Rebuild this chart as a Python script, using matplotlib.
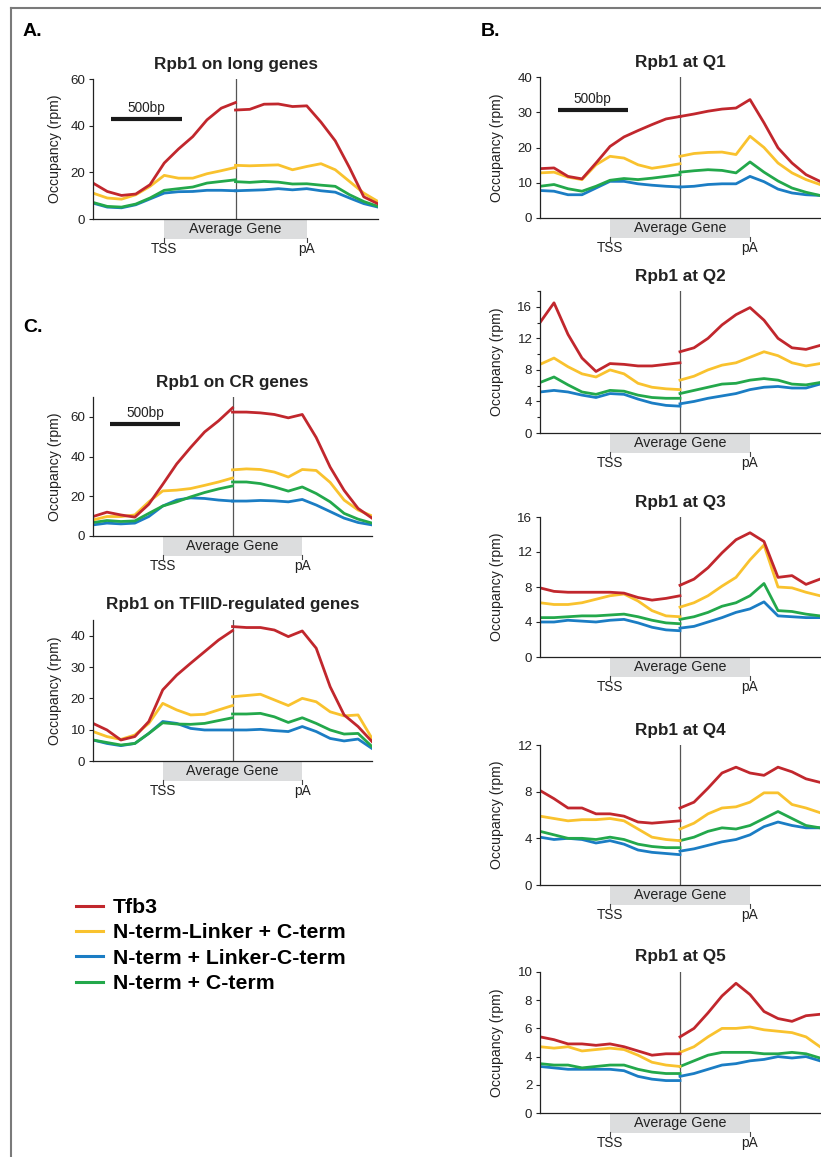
import numpy as np
import matplotlib.pyplot as plt
from matplotlib.lines import Line2D
from matplotlib.patches import Rectangle
from matplotlib.transforms import blended_transform_factory

plt.rcParams['font.family'] = ['Liberation Sans', 'DejaVu Sans']

W, H, DPI = 821, 1157, 100

# metagene position: 0..2 = upstream -> TSS -> gene middle, 2..4 = gene middle -> pA -> downstream
pos_left = np.linspace(0, 2, 11)
pos_right = np.linspace(2, 4, 11)

names = ['Tfb3', 'N-term-Linker + C-term', 'N-term + Linker-C-term', 'N-term + C-term']
colors = ['#C1272D', '#F9C22E', '#1B7DC4', '#23A84B']

# every list: 11 values before the gene middle, then 11 after it
long_tfb3 = [15.4, 11.8, 10.1, 10.7, 14.7, 24.0, 30.0, 35.3, 42.5, 47.5, 49.9,
             46.7, 47.0, 49.2, 49.3, 48.2, 48.5, 41.5, 33.5, 22.0, 9.5, 6.5]
long_nlc = [11.1, 9.0, 8.5, 10.4, 14.0, 18.7, 17.5, 17.5, 19.4, 20.7, 22.1,
            23.0, 22.8, 23.0, 23.2, 21.1, 22.5, 23.7, 21.1, 16.1, 11.1, 7.5]
long_nlct = [6.8, 5.1, 4.8, 6.1, 8.6, 11.1, 11.7, 11.8, 12.3, 12.3, 12.1,
             12.1, 12.3, 12.5, 13.0, 12.5, 13.0, 12.1, 11.5, 9.0, 6.6, 5.1]
long_nct = [7.1, 5.4, 5.1, 6.4, 9.0, 12.3, 13.0, 13.7, 15.4, 16.1, 16.8,
            16.0, 15.7, 16.1, 15.8, 15.0, 15.1, 14.5, 14.0, 10.4, 7.5, 5.4]

q1_tfb3 = [14.0, 14.2, 11.8, 11.1, 15.6, 20.3, 23.0, 24.8, 26.5, 28.1, 28.8,
           28.8, 29.5, 30.3, 30.9, 31.2, 33.6, 27.0, 19.9, 15.6, 12.3, 10.4]
q1_nlc = [12.8, 13.0, 11.6, 10.9, 15.1, 17.5, 17.0, 15.1, 14.1, 14.7, 15.4,
          17.5, 18.3, 18.6, 18.7, 18.0, 23.2, 20.0, 15.6, 12.8, 10.9, 9.5]
q1_nlct = [7.8, 7.6, 6.6, 6.6, 8.5, 10.4, 10.4, 9.7, 9.3, 9.0, 8.8,
           8.8, 9.0, 9.5, 9.7, 9.7, 11.8, 10.3, 8.2, 7.1, 6.6, 6.4]
q1_nct = [9.0, 9.5, 8.3, 7.6, 9.0, 10.7, 11.2, 10.9, 11.3, 11.8, 12.3,
          13.0, 13.4, 13.7, 13.5, 12.8, 15.9, 13.0, 10.5, 8.5, 7.3, 6.4]

q2_tfb3 = [14.0, 16.5, 12.5, 9.5, 7.8, 8.8, 8.7, 8.5, 8.5, 8.7, 8.9,
           10.3, 10.8, 12.0, 13.7, 15.0, 15.9, 14.3, 12.0, 10.8, 10.6, 11.1]
q2_nlc = [8.7, 9.5, 8.4, 7.5, 7.1, 8.0, 7.5, 6.3, 5.8, 5.6, 5.5,
          6.7, 7.2, 8.0, 8.6, 8.9, 9.6, 10.3, 9.8, 8.9, 8.5, 8.8]
q2_nlct = [5.2, 5.4, 5.2, 4.8, 4.5, 5.0, 4.9, 4.3, 3.8, 3.5, 3.4,
           3.7, 4.0, 4.4, 4.7, 5.0, 5.5, 5.8, 5.9, 5.7, 5.7, 6.2]
q2_nct = [6.4, 7.1, 6.1, 5.2, 4.9, 5.4, 5.3, 4.8, 4.5, 4.4, 4.4,
          5.0, 5.4, 5.8, 6.2, 6.3, 6.7, 6.9, 6.7, 6.2, 6.1, 6.4]

q3_tfb3 = [7.9, 7.5, 7.4, 7.4, 7.4, 7.4, 7.3, 6.8, 6.5, 6.7, 7.0,
           8.2, 8.9, 10.2, 11.9, 13.4, 14.2, 13.2, 9.1, 9.3, 8.3, 8.9]
q3_nlc = [6.2, 6.0, 6.0, 6.2, 6.6, 7.0, 7.2, 6.4, 5.3, 4.7, 4.6,
          5.7, 6.2, 7.0, 8.1, 9.1, 11.1, 12.8, 8.0, 7.9, 7.4, 7.0]
q3_nlct = [4.0, 4.0, 4.2, 4.1, 4.0, 4.2, 4.3, 3.9, 3.4, 3.1, 3.0,
           3.3, 3.5, 4.0, 4.5, 5.1, 5.5, 6.3, 4.7, 4.6, 4.5, 4.5]
q3_nct = [4.5, 4.5, 4.6, 4.7, 4.7, 4.8, 4.9, 4.6, 4.2, 3.9, 3.8,
          4.3, 4.6, 5.1, 5.8, 6.2, 7.0, 8.4, 5.3, 5.2, 4.9, 4.7]

q4_tfb3 = [8.1, 7.4, 6.6, 6.6, 6.1, 6.1, 5.9, 5.4, 5.3, 5.4, 5.5,
           6.6, 7.1, 8.3, 9.6, 10.1, 9.6, 9.4, 10.1, 9.7, 9.1, 8.8]
q4_nlc = [5.9, 5.7, 5.5, 5.6, 5.6, 5.7, 5.5, 4.8, 4.1, 3.9, 3.8,
          4.8, 5.3, 6.1, 6.6, 6.7, 7.1, 7.9, 7.9, 6.9, 6.6, 6.2]
q4_nlct = [4.1, 3.9, 4.0, 3.9, 3.6, 3.8, 3.5, 3.0, 2.8, 2.7, 2.6,
           2.9, 3.1, 3.4, 3.7, 3.9, 4.3, 5.0, 5.4, 5.1, 4.9, 4.9]
q4_nct = [4.6, 4.3, 4.0, 4.0, 3.9, 4.1, 3.9, 3.5, 3.3, 3.2, 3.2,
          3.8, 4.1, 4.6, 4.9, 4.8, 5.1, 5.7, 6.3, 5.7, 5.1, 4.9]

q5_tfb3 = [5.4, 5.2, 4.9, 4.9, 4.8, 4.9, 4.7, 4.4, 4.1, 4.2, 4.2,
           5.4, 6.0, 7.1, 8.3, 9.2, 8.4, 7.2, 6.7, 6.5, 6.9, 7.0]
q5_nlc = [4.7, 4.6, 4.7, 4.4, 4.5, 4.6, 4.5, 4.1, 3.6, 3.4, 3.3,
          4.3, 4.7, 5.4, 6.0, 6.0, 6.1, 5.9, 5.8, 5.7, 5.4, 4.7]
q5_nlct = [3.3, 3.2, 3.1, 3.1, 3.1, 3.1, 3.0, 2.6, 2.4, 2.3, 2.3,
           2.6, 2.8, 3.1, 3.4, 3.5, 3.7, 3.8, 4.0, 3.9, 4.0, 3.7]
q5_nct = [3.5, 3.4, 3.4, 3.2, 3.3, 3.4, 3.4, 3.1, 2.9, 2.8, 2.8,
          3.3, 3.7, 4.1, 4.3, 4.3, 4.3, 4.2, 4.2, 4.3, 4.2, 3.9]

cr_tfb3 = [9.8, 12.0, 10.6, 9.5, 16.0, 26.0, 36.3, 44.6, 52.4, 58.0, 64.5,
           62.4, 62.4, 62.0, 61.2, 59.5, 61.2, 49.6, 34.7, 23.0, 13.9, 9.0]
cr_nlc = [8.1, 9.8, 9.8, 10.6, 17.2, 22.7, 23.1, 23.9, 25.5, 27.2, 29.2,
          33.3, 33.8, 33.5, 32.2, 29.7, 33.5, 33.0, 27.0, 18.1, 13.1, 10.1]
cr_nlct = [5.6, 6.5, 6.1, 6.5, 9.8, 15.1, 18.1, 19.2, 18.9, 18.1, 17.6,
           17.6, 17.6, 17.9, 17.7, 17.2, 18.4, 15.6, 12.3, 9.0, 6.8, 5.6]
cr_nct = [6.8, 7.8, 7.3, 7.6, 11.4, 15.1, 17.2, 19.7, 21.9, 23.7, 25.2,
          27.2, 27.2, 26.4, 24.7, 22.6, 24.7, 21.4, 17.2, 11.4, 8.5, 6.5]

tfiid_tfb3 = [12.0, 9.9, 6.7, 7.8, 12.6, 22.7, 27.4, 31.2, 34.9, 38.6, 41.6,
              42.9, 42.6, 42.6, 41.8, 39.7, 41.5, 36.0, 23.7, 14.7, 11.0, 6.2]
tfiid_nlc = [9.4, 7.8, 6.9, 8.3, 12.0, 18.4, 16.3, 14.7, 14.9, 16.3, 17.7,
             20.5, 20.9, 21.3, 19.5, 17.7, 20.0, 18.9, 15.7, 14.4, 14.7, 7.2]
tfiid_nlct = [6.7, 5.6, 4.9, 5.6, 8.8, 12.6, 12.0, 10.4, 9.9, 9.9, 9.9,
              9.9, 9.9, 10.1, 9.7, 9.4, 11.0, 9.4, 7.2, 6.4, 7.0, 4.0]
tfiid_nct = [6.7, 5.9, 5.1, 5.6, 8.8, 12.2, 11.8, 11.7, 12.0, 12.9, 13.8,
             15.0, 15.0, 15.2, 14.1, 12.3, 13.8, 12.0, 9.9, 8.6, 8.8, 4.6]

# title, axes box in pixels (left, top, right, bottom), y max, y ticks, minor ticks, scale bar row, series
panels = [
    ('Rpb1 on long genes', (93, 79, 378, 219), 60, [0, 20, 40, 60], [], 119,
     [long_tfb3, long_nlc, long_nlct, long_nct]),
    ('Rpb1 on CR genes', (93, 397, 372, 536), 70, [0, 20, 40, 60], [], 424,
     [cr_tfb3, cr_nlc, cr_nlct, cr_nct]),
    ('Rpb1 on TFIID-regulated genes', (93, 620, 372, 761), 45, [0, 10, 20, 30, 40], [], None,
     [tfiid_tfb3, tfiid_nlc, tfiid_nlct, tfiid_nct]),
    ('Rpb1 at Q1', (540, 77, 820, 218), 40, [0, 10, 20, 30, 40], [], 110,
     [q1_tfb3, q1_nlc, q1_nlct, q1_nct]),
    ('Rpb1 at Q2', (540, 291, 820, 433), 18, [0, 4, 8, 12, 16], [2, 6, 10, 14, 18], None,
     [q2_tfb3, q2_nlc, q2_nlct, q2_nct]),
    ('Rpb1 at Q3', (540, 517, 820, 657), 16, [0, 4, 8, 12, 16], [], None,
     [q3_tfb3, q3_nlc, q3_nlct, q3_nct]),
    ('Rpb1 at Q4', (540, 745, 820, 885), 12, [0, 4, 8, 12], [], None,
     [q4_tfb3, q4_nlc, q4_nlct, q4_nct]),
    ('Rpb1 at Q5', (540, 972, 820, 1113), 10, [0, 2, 4, 6, 8, 10], [], None,
     [q5_tfb3, q5_nlc, q5_nlct, q5_nct]),
]

fig = plt.figure(figsize=(W / DPI, H / DPI), dpi=DPI)


def fy(p):
    # pixel row -> figure inches from the bottom
    return (H - p) / DPI


for title, (l, t, r, b), ymax, yt, ymin_t, bar_y, series in panels:
    ax = fig.add_axes([l / W, 1 - b / H, (r - l) / W, (b - t) / H])
    for i in [2, 3, 1, 0]:
        ax.plot(pos_left, series[i][:11], color=colors[i], lw=2.0, solid_joinstyle='round')
        ax.plot(pos_right, series[i][11:], color=colors[i], lw=2.0, solid_joinstyle='round')
    ax.axvline(2, color='#555555', lw=0.9, zorder=1)
    ax.set_xlim(0, 4)
    ax.set_ylim(0, ymax)
    ax.set_yticks(yt)
    ax.set_yticks(ymin_t, minor=True)
    ax.set_xticks([])
    ax.tick_params(axis='y', which='major', labelsize=9.6, length=3, width=0.8, pad=2.5,
                   colors='#222222')
    ax.tick_params(axis='y', which='minor', length=2, width=0.8, colors='#222222')
    for s in ['top', 'right']:
        ax.spines[s].set_visible(False)
    for s in ['left', 'bottom']:
        ax.spines[s].set_linewidth(0.9)
        ax.spines[s].set_color('#222222')

    tr = blended_transform_factory(ax.transData, fig.dpi_scale_trans)
    ax.add_patch(Rectangle((1, fy(b + 20)), 2, 20 / DPI, transform=tr, fc='#DCDDDE',
                           ec='none', clip_on=False))
    ax.text(2, fy(b + 10), 'Average Gene', transform=tr, ha='center', va='center',
            fontsize=10.3, color='#222222')
    for xx, lab in [(1, 'TSS'), (3, 'pA')]:
        ax.plot([xx, xx], [fy(b + 19), fy(b + 23)], transform=tr, color='#444444',
                lw=0.8, clip_on=False)
        ax.text(xx, fy(b + 30), lab, transform=tr, ha='center', va='center',
                fontsize=9.8, color='#222222')
    ax.text(2, fy(t - 15), title, transform=tr, ha='center', va='center',
            fontsize=12.3, fontweight='bold', color='#222222')
    if bar_y is not None:
        ax.plot([0.25, 1.25], [fy(bar_y), fy(bar_y)], transform=tr, color='#1a1a1a',
                lw=3, solid_capstyle='butt', clip_on=False)
        ax.text(0.75, fy(bar_y - 11), '500bp', transform=tr, ha='center', va='center',
                fontsize=9.8, color='#222222')
    lab_x = l - (38 if l < 400 else 43)
    fig.text(lab_x / W, 1 - (t + b) / 2 / H, 'Occupancy (rpm)', rotation=90,
             ha='center', va='center', fontsize=10.2, color='#222222')

# panel letters
for lab, xp, yp in [('A.', 23, 31), ('B.', 481, 31), ('C.', 23, 328)]:
    fig.text(xp / W, 1 - yp / H, lab, fontsize=14, fontweight='bold', va='center')

# figure frame
fig.add_artist(Line2D([11 / W, 1], [1 - 8 / H, 1 - 8 / H], transform=fig.transFigure,
                      color='#7a7a7a', lw=1.5))
fig.add_artist(Line2D([11 / W, 11 / W], [0, 1 - 8 / H], transform=fig.transFigure,
                      color='#7a7a7a', lw=1.5))

handles = [Line2D([], [], color=c, lw=2.2) for c in colors]
fig.legend(handles, names, loc='upper left', bbox_to_anchor=(76 / W, 1 - 898 / H),
           frameon=False, prop={'weight': 'bold', 'size': 15.3}, handlelength=1.25,
           handletextpad=0.5, labelspacing=0.3, borderpad=0, borderaxespad=0)

fig.savefig('out.png', dpi=DPI)
